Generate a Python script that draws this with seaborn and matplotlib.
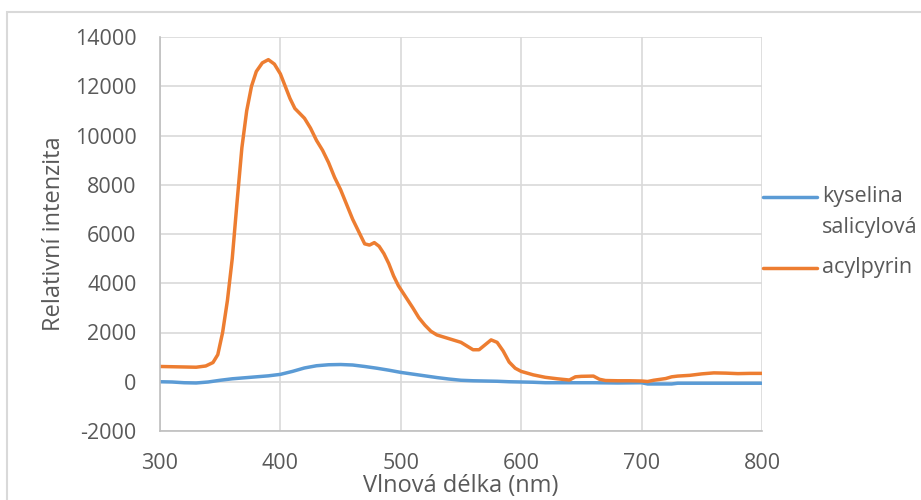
import numpy as np
import pandas as pd
import matplotlib
matplotlib.use("Agg")
import matplotlib.pyplot as plt
import seaborn as sns
from matplotlib.patches import Rectangle
from matplotlib.lines import Line2D

# ── Data ───────────────────────────────────────────────────
acyl_x = [300, 310, 320, 330, 338, 344, 348, 352, 356, 360, 364, 368, 372, 376,
          380, 385, 390, 395, 400, 404, 408, 412, 416, 420, 425, 430, 435, 440,
          445, 450, 455, 460, 465, 470, 474, 478, 482, 486, 490, 494, 498, 502,
          506, 510, 515, 520, 525, 530, 540, 550, 555, 560, 565, 570, 575, 580,
          585, 590, 595, 600, 610, 620, 630, 640, 645, 650, 660, 665, 670, 680,
          690, 700, 705, 710, 720, 725, 730, 740, 750, 760, 770, 780, 790, 800]
acyl_y = [620, 610, 600, 590, 640, 780, 1100, 2000, 3300, 5000, 7300, 9500, 11000, 12000,
          12600, 12950, 13080, 12900, 12500, 12000, 11500, 11100, 10900, 10700, 10300, 9800, 9400, 8900,
          8300, 7800, 7200, 6600, 6100, 5600, 5550, 5650, 5500, 5200, 4800, 4300, 3900, 3600,
          3300, 3000, 2600, 2300, 2050, 1900, 1750, 1600, 1450, 1300, 1300, 1500, 1700, 1600,
          1250, 800, 550, 420, 280, 180, 120, 70, 200, 220, 230, 100, 50, 40,
          40, 30, 10, 60, 130, 200, 230, 260, 320, 360, 350, 330, 340, 340]

sal_x = [300, 310, 320, 330, 340, 350, 360, 370, 380, 390, 400, 410, 420, 430, 440,
         450, 460, 470, 480, 490, 500, 510, 520, 530, 540, 550, 560, 570, 580, 590,
         600, 610, 620, 640, 660, 680, 700, 705, 715, 725, 730, 750, 770, 800]
sal_y = [0, -10, -40, -50, -10, 60, 120, 160, 200, 240, 300, 420, 560, 650, 690,
         700, 680, 620, 550, 470, 380, 310, 240, 170, 110, 60, 40, 30, 20, 0,
         -10, -20, -40, -40, -40, -50, -40, -90, -90, -90, -60, -60, -60, -60]

labels = [["kyselina", "salicylová"], ["acylpyrin"]]
colors = ["#5b9bd5", "#ed7d31"]
x_ticks = [300, 400, 500, 600, 700, 800]
y_ticks = list(range(-2000, 14001, 2000))

# ── Style ──────────────────────────────────────────────────
sns.set_style("white")
plt.rcParams["font.family"] = ["Open Sans", "DejaVu Sans"]
plt.rcParams["axes.unicode_minus"] = False
text_col = "#595959"
grid_col = "#d9d9d9"
fs = 15.5
fs_title = 17

fig = plt.figure(figsize=(9.21, 5.0), dpi=100)
ax = fig.add_axes([160 / 921, 1 - 431 / 500, (762 - 160) / 921, (431 - 37) / 500])

sal = pd.DataFrame({"x": sal_x, "y": sal_y})
acyl = pd.DataFrame({"x": acyl_x, "y": acyl_y})
sns.lineplot(data=sal, x="x", y="y", ax=ax, color=colors[0], lw=2.5, legend=False)
sns.lineplot(data=acyl, x="x", y="y", ax=ax, color=colors[1], lw=2.5, legend=False)

ax.set_xlim(300, 800)
ax.set_ylim(-2000, 14000)
ax.set_xticks(x_ticks)
ax.set_yticks(y_ticks)
ax.grid(True, color=grid_col, lw=1.2)
ax.set_axisbelow(True)
for s in ["top", "right"]:
    ax.spines[s].set_visible(False)
for s in ["left", "bottom"]:
    ax.spines[s].set_color("#bfbfbf")
    ax.spines[s].set_linewidth(1.2)
ax.tick_params(length=0, labelsize=fs, colors=text_col)
ax.tick_params(axis="x", pad=16)
ax.tick_params(axis="y", pad=17)
ax.set_xlabel("Vlnová délka (nm)", fontsize=fs_title, color=text_col, labelpad=0)
ax.set_ylabel("Relativní intenzita", fontsize=fs_title, color=text_col, labelpad=6)

# ── Legend (Excel style: key aligned with first text line) ──
key_y = [0.594, 0.414]
for col, lab, ky in zip(colors, labels, key_y):
    ax.add_line(Line2D([1.002, 1.091], [ky, ky], transform=ax.transAxes,
                       color=col, lw=2.5, clip_on=False))
    for i, line in enumerate(lab):
        ax.text(1.100, ky - i * 0.077, line, transform=ax.transAxes,
                fontsize=fs, color=text_col, va="center", ha="left")

# outer chart border
fig.add_artist(Rectangle((7 / 921, -0.1), 1.0, 1 - 12 / 500 + 0.1, transform=fig.transFigure,
                         fill=False, edgecolor=grid_col, lw=1.5))

fig.savefig("out.png", dpi=100)
